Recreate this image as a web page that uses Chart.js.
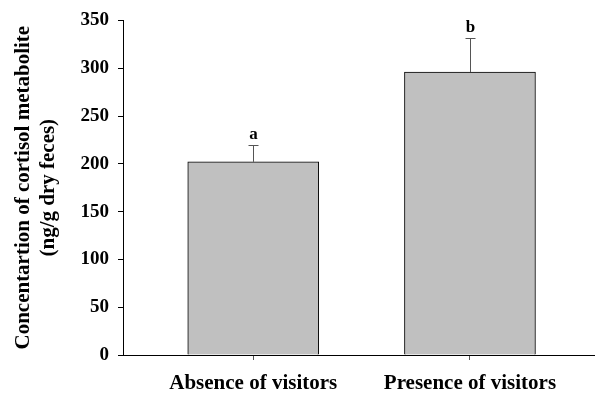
<!DOCTYPE html>
<html>
<head>
<meta charset="utf-8">
<script src="https://cdn.jsdelivr.net/npm/chart.js@4"></script>
<style>
  html, body { margin: 0; padding: 0; background: #fff; }
  #wrap { width: 595px; height: 394px; }
</style>
</head>
<body>
<div id="wrap"><canvas id="myChart" width="595" height="394"></canvas></div>
<script>
// chart data
const categories = ["Absence of visitors", "Presence of visitors"];
const positions = [1, 2];
const means = [202, 296];
const errors = [18, 36];
const letters = ["a", "b"];
const yTicks = [0, 50, 100, 150, 200, 250, 300, 350];

const serif = '"Liberation Serif", "Times New Roman", serif';

// draws the upper error bars and the significance letters
const errorBars = {
  id: "errorBars",
  afterDatasetsDraw(chart) {
    const { ctx, scales } = chart;
    const x = scales.x, y = scales.y;
    ctx.save();
    positions.forEach((p, i) => {
      const px = Math.round(x.getPixelForValue(p)) + 0.5;
      const top = y.getPixelForValue(means[i]);
      const cap = Math.round(y.getPixelForValue(means[i] + errors[i])) + 0.5;
      ctx.strokeStyle = "#555";
      ctx.lineWidth = 1;
      ctx.beginPath();
      ctx.moveTo(px, top);
      ctx.lineTo(px, cap);
      ctx.moveTo(px - 5, cap);
      ctx.lineTo(px + 5, cap);
      ctx.stroke();

      ctx.fillStyle = "#000";
      ctx.font = "bold 17px " + serif;
      ctx.textAlign = "center";
      ctx.textBaseline = "alphabetic";
      ctx.fillText(letters[i], px, cap - 7);
    });
    ctx.restore();
  }
};

const chart = new Chart(document.getElementById("myChart").getContext("2d"), {
  type: "bar",
  data: {
    datasets: [{
      data: positions.map((p, i) => ({ x: p, y: means[i] })),
      backgroundColor: "#c0c0c0",
      borderColor: "#000",
      borderWidth: 1,
      barThickness: 131
    }]
  },
  options: {
    responsive: false,
    animation: false,
    layout: { padding: { top: 19, right: 0, bottom: 0, left: 0 } },
    plugins: {
      legend: { display: false },
      tooltip: { enabled: false }
    },
    scales: {
      x: {
        type: "linear",
        min: 0.399,
        max: 2.577,
        offset: false,
        grid: { offset: false, drawOnChartArea: false, drawTicks: true, tickLength: 5, color: "#555" },
        border: { display: true, color: "#000", width: 1 },
        afterBuildTicks: (axis) => { axis.ticks = positions.map(v => ({ value: v })); },
        afterFit: (s) => { s.height = 39; },
        ticks: {
          autoSkip: false,
          maxRotation: 0,
          padding: 11,
          color: "#000",
          font: { family: serif, size: 21, weight: "bold" },
          callback: (v) => categories[positions.indexOf(v)] || ""
        }
      },
      y: {
        min: 0,
        max: 350,
        afterBuildTicks: (axis) => { axis.ticks = yTicks.map(v => ({ value: v })); },
        afterFit: (s) => { s.width = 123; },
        grid: { drawOnChartArea: false, drawTicks: true, tickLength: 5, color: "#000" },
        border: { display: true, color: "#000", width: 1 },
        ticks: {
          padding: 9,
          color: "#000",
          font: { family: serif, size: 19, weight: "bold" }
        },
        title: {
          display: true,
          text: ["Concentartion of cortisol metabolite", "(ng/g dry feces)"],
          color: "#000",
          font: { family: serif, size: 21, weight: "bold", lineHeight: 1.15 },
          padding: { top: 12, bottom: 0 }
        }
      }
    }
  },
  plugins: [errorBars]
});
</script>
</body>
</html>
